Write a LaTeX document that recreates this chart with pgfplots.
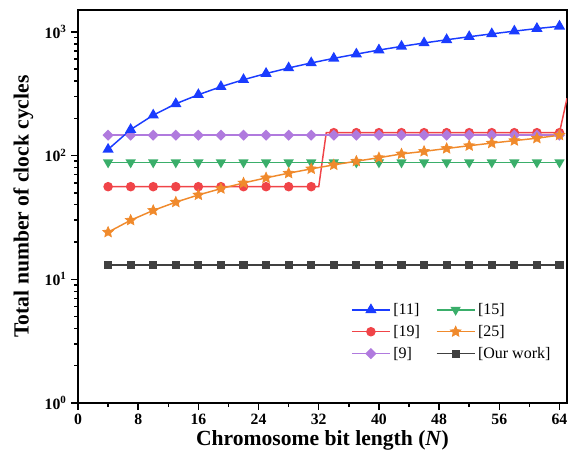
\documentclass[border=0pt]{standalone}
\usepackage{fontspec}
\setmainfont{Liberation Serif}
\usepackage{pgfplots}
\pgfplotsset{compat=1.18}
\definecolor{cblue}{HTML}{1A3CFF}
\definecolor{cgreen}{HTML}{3AAE6A}
\definecolor{cred}{HTML}{F04448}
\definecolor{corange}{HTML}{F08A2C}
\definecolor{cpurple}{HTML}{B07ADE}
\definecolor{cgray}{HTML}{404040}

% filled five-point star
\pgfdeclareplotmark{fstar}{%
  \pgfpathmoveto{\pgfqpointpolar{90}{\pgfplotmarksize}}%
  \pgfpathlineto{\pgfqpointpolar{126}{0.47\pgfplotmarksize}}%
  \pgfpathlineto{\pgfqpointpolar{162}{\pgfplotmarksize}}%
  \pgfpathlineto{\pgfqpointpolar{198}{0.47\pgfplotmarksize}}%
  \pgfpathlineto{\pgfqpointpolar{234}{\pgfplotmarksize}}%
  \pgfpathlineto{\pgfqpointpolar{270}{0.47\pgfplotmarksize}}%
  \pgfpathlineto{\pgfqpointpolar{306}{\pgfplotmarksize}}%
  \pgfpathlineto{\pgfqpointpolar{342}{0.47\pgfplotmarksize}}%
  \pgfpathlineto{\pgfqpointpolar{18}{\pgfplotmarksize}}%
  \pgfpathlineto{\pgfqpointpolar{54}{0.47\pgfplotmarksize}}%
  \pgfpathclose
  \pgfusepathqfillstroke}

\pgfplotsset{
  s11/.style={color=cblue, line width=1.1pt, mark=triangle*, mark size=3.8pt, mark options={solid}},
  s15/.style={color=cgreen, line width=1.1pt, mark=triangle*, mark size=3.4pt, mark options={solid,rotate=180}},
  s19/.style={color=cred, line width=1.1pt, mark=*, mark size=3pt, mark options={solid}},
  s25/.style={color=corange, line width=1.1pt, mark=fstar, mark size=4.2pt, mark options={solid,fill=corange,line width=0.5pt}},
  s9/.style={color=cpurple, line width=1.1pt, mark=square*, mark size=2.4pt, mark options={solid,rotate=45}},
  sour/.style={color=cgray, line width=1.1pt, mark=square*, mark size=2.5pt, mark options={solid}},
}

\begin{document}
\begin{tikzpicture}
\begin{axis}[
  scale only axis, width=366.75pt, height=294.75pt,
  ymode=log, xmin=0, xmax=65, ymin=1, ymax=1500,
  enlargelimits=false,
  axis line style={line width=1.5pt},
  every tick/.style={black, line width=1.1pt},
  tick align=outside, xtick pos=bottom, ytick pos=left,
  major tick length=5pt, minor tick length=2.8pt,
  xtick={0,8,16,24,32,40,48,56,64}, minor x tick num=1,
  ytick={1,10,100,1000},
  yticklabels={\textbf{10}\textsuperscript{\textbf{0}},\textbf{10}\textsuperscript{\textbf{1}},\textbf{10}\textsuperscript{\textbf{2}},\textbf{10}\textsuperscript{\textbf{3}}},
  /pgf/number format/assume math mode=true,
  tick label style={font=\bfseries\fontsize{11.8}{13}\selectfont},
  xlabel={Chromosome bit length (\textit{N})},
  ylabel={Total number of clock cycles},
  label style={font=\bfseries\fontsize{16.2}{19}\selectfont},
  xlabel style={at={(axis description cs:0.5,-0.095)}, anchor=center},
  ylabel style={at={(axis description cs:-0.112,0.5)}, anchor=center},
  legend columns=2, legend cell align=left,
  legend style={at={(0.55,0.268)}, anchor=north west, draw=none, fill=none,
    font=\fontsize{12}{16.5}\selectfont, /tikz/row sep=2.6pt,
    /tikz/every even column/.append style={column sep=10pt}},
  legend image code/.code={%
    \draw[mark repeat=2,mark phase=2] plot coordinates {(0cm,0cm) (0.5cm,0cm) (1.0cm,0cm)};},
  legend image post style={line width=1.1pt},
  clip=true,
]
% [19]
\addplot[s19, forget plot, mark indices={1,2,3,4,5,6,7,8,9,10,13,14,15,16,17,18,19,20,21,22,23}] coordinates {
(4,56) (7,56) (10,56) (13,56) (16,56) (19,56) (22,56) (25,56) (28,56) (31,56)
(32,56) (33,153)
(34,153) (37,153) (40,153) (43,153) (46,153) (49,153) (52,153) (55,153) (58,153) (61,153) (64,153)
(65,290)};
% [15]
\addplot[s15, forget plot] coordinates {
(4,88) (7,88) (10,88) (13,88) (16,88) (19,88) (22,88) (25,88) (28,88) (31,88) (34,88)
(37,88) (40,88) (43,88) (46,88) (49,88) (52,88) (55,88) (58,88) (61,88) (64,88)};
% [9]
\addplot[s9, forget plot] coordinates {
(4,146) (7,146) (10,146) (13,146) (16,146) (19,146) (22,146) (25,146) (28,146) (31,146) (34,146)
(37,146) (40,146) (43,146) (46,146) (49,146) (52,146) (55,146) (58,146) (61,146) (64,146)};
% [25]
\addplot[s25, forget plot] coordinates {
(4,24) (7,30) (10,36) (13,42) (16,48) (19,54) (22,60) (25,66) (28,72) (31,78) (34,84)
(37,90) (40,96) (43,103) (46,108) (49,114) (52,120) (55,126) (58,132) (61,138) (64,146)};
% [11]
\addplot[s11, forget plot] coordinates {
(4,112) (7,162) (10,212) (13,262) (16,310) (19,360) (22,410) (25,460) (28,510) (31,560) (34,610)
(37,660) (40,712) (43,762) (46,812) (49,862) (52,912) (55,962) (58,1012) (61,1062) (64,1108)};
% our work
\addplot[sour, forget plot] coordinates {
(4,13) (7,13) (10,13) (13,13) (16,13) (19,13) (22,13) (25,13) (28,13) (31,13) (34,13)
(37,13) (40,13) (43,13) (46,13) (49,13) (52,13) (55,13) (58,13) (61,13) (64,13)};

\addlegendimage{s11}\addlegendentry{[11]}
\addlegendimage{s15}\addlegendentry{[15]}
\addlegendimage{s19}\addlegendentry{[19]}
\addlegendimage{s25}\addlegendentry{[25]}
\addlegendimage{s9}\addlegendentry{[9]}
\addlegendimage{sour}\addlegendentry{[Our work]}
\end{axis}
% page margins to match the reference framing
\path (current axis.south west) ++(-58.5pt,-43.5pt);
\path (current axis.north east) ++(9pt,7.5pt);
\end{tikzpicture}
\end{document}
